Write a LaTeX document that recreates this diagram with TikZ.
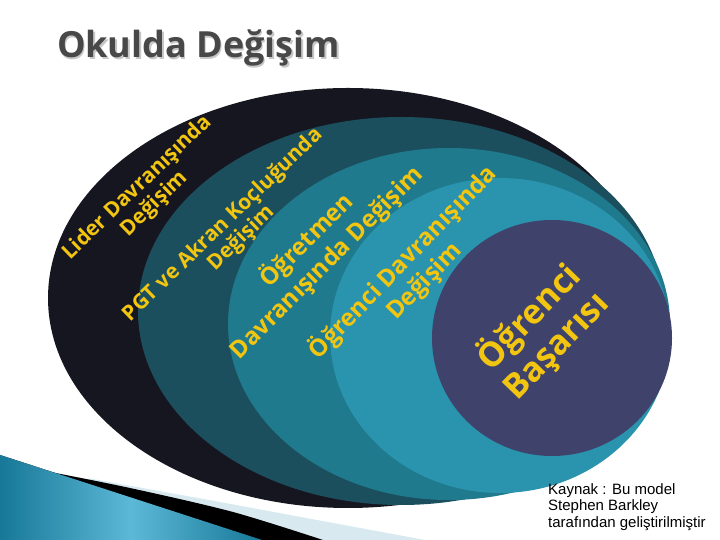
\documentclass[tikz,border=0pt]{standalone}
\usepackage{fontspec}
\setmainfont{Open Sans}
\newfontfamily\notefont{Liberation Sans}

\definecolor{ringblack}{RGB}{22,22,33}
\definecolor{ringdark}{RGB}{27,79,94}
\definecolor{ringmid}{RGB}{31,122,141}
\definecolor{ringlight}{RGB}{42,147,173}
\definecolor{ringcore}{RGB}{63,66,107}
\definecolor{labelyellow}{RGB}{242,197,17}
\definecolor{titlegray}{RGB}{72,72,72}
\definecolor{swdark}{RGB}{24,120,152}
\definecolor{swlight}{RGB}{92,184,214}
\definecolor{swpale}{RGB}{216,234,240}

\begin{document}
\begin{tikzpicture}[x=1pt, y=1pt,
    lbl/.style = {text=labelyellow, inner sep=0pt, font=\bfseries\fontsize{21}{24}\selectfont},
    lblbig/.style = {lbl, font=\bfseries\fontsize{24}{28}\selectfont},
    lblcore/.style = {lbl, font=\bfseries\fontsize{34}{40}\selectfont}]
    \useasboundingbox (0,0) rectangle (720,540);

    % nested ovals
    \fill[ringblack] (348,242) ellipse [x radius=300pt, y radius=210pt];
    \fill[ringdark] (401,229) ellipse [x radius=263pt, y radius=194pt];
    \fill[ringmid] (449,216) ellipse [x radius=221pt, y radius=176pt];
    \fill[ringlight] (500,204.5) ellipse [x radius=170pt, y radius=157.5pt];
    \fill[ringcore] (552,202) ellipse [x radius=120pt, y radius=118pt];

    % swoosh, bottom left
    \fill[swpale] (90,61.5) -- (220,38) -- (425,0) -- (0,0) -- cycle;
    \fill[black] plot[smooth] coordinates {(30,72) (130,52) (233,28) (323,0)} -- (0,0) -- cycle;
    \fill[left color=swdark, right color=swdark, middle color=swlight] (0,85) -- (262,0) -- (0,0) -- cycle;

    % labels
    \node[lbl, rotate=44] (1) at (137.5,352) {Lider Davranışında};
    \node[lbl, rotate=44] (2) at (154.5,336) {Değişim};
    \node[lbl, rotate=44] (3) at (223,315) {PGT ve Akran Koçluğunda};
    \node[lbl, rotate=44] (4) at (241.5,301.5) {Değişim};
    \node[lblbig, rotate=45] (5) at (306.5,300) {Öğretmen};
    \node[lblbig, rotate=45] (6) at (327.5,276.5) {Davranışında Değişim};
    \node[lblbig, rotate=46] (7) at (402.5,278) {Öğrenci Davranışında};
    \node[lblbig, rotate=46] (8) at (425,258) {Değişim};
    \node[lblcore, rotate=46] (9) at (528.5,223) {Öğrenci};
    \node[lblcore, rotate=46] (10) at (558.5,192) {Başarısı};

    % title and source
    \node[text=black!22, font=\bfseries\fontsize{36}{42}\selectfont] (11) at (200,490.5) {Okulda Değişim};
    \node[text=titlegray, font=\bfseries\fontsize{36}{42}\selectfont] (12) at (198.5,492) {Okulda Değişim};
    \node[anchor=north west, inner sep=0pt, align=left, font=\notefont\fontsize{15}{16.5}\selectfont] (13) at (548,57)
        {Kaynak : Bu model\\Stephen Barkley\\tarafından geliştirilmiştir};
\end{tikzpicture}
\end{document}
